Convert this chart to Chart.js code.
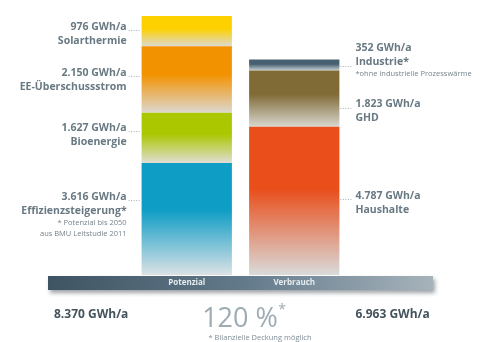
<!DOCTYPE html>
<html lang="de">
<head>
<meta charset="utf-8">
<title>Potenzial und Verbrauch</title>
<script src="https://cdn.jsdelivr.net/npm/chart.js@4/dist/chart.umd.min.js"></script>
<style>
  html, body { margin: 0; padding: 0; background: #ffffff; }
  #wrap { position: relative; width: 486px; height: 342px; }
</style>
</head>
<body>
<div id="wrap"><canvas id="bilanz" width="486" height="342"></canvas></div>
<script>
// Kategorien der beiden Säulen
const categories = ['Potenzial', 'Verbrauch'];

// Potenzial (von unten nach oben gestapelt), GWh/a
const potenzialNames = ['Effizienzsteigerung*', 'Bioenergie', 'EE-Überschussstrom', 'Solarthermie'];
const potenzialValues = [3616, 1627, 2150, 976];
const potenzialColors = ['#0e9dc5', '#abc700', '#f39200', '#fdd000'];
const potenzialFades = ['#dbe2e6', '#dfded4', '#dcd8d0', '#dcdad0'];

// Verbrauch (von unten nach oben gestapelt), GWh/a
const verbrauchNames = ['Haushalte', 'GHD', 'Industrie*'];
const verbrauchValues = [4787, 1823, 352];
const verbrauchColors = ['#e94e1b', '#806a36', '#466072'];
const verbrauchFades = ['#d9dbdb', '#d8d8d0', '#c8d0d4'];

// Summen und Deckungsgrad
const totals = [8370, 6963];
const coverage = Math.round(totals[0] / totals[1] * 100);

const fmt = v => String(v).replace(/\B(?=(\d{3})+(?!\d))/g, '.') + ' GWh/a';

const FONT = "'Open Sans', 'Noto Sans', sans-serif";
const TEXT = '#687983';

// Datensätze: jeder Abschnitt ist eine eigene gestapelte Serie
function buildSets(names, values, colors, fades, col) {
    let base = 0;
    return names.map((name, i) => {
        const start = base;
        base += values[i];
        const data = categories.map((c, k) => (k === col ? values[i] : null));
        return {
            label: name,
            data: data,
            backgroundColor: (ctx) => {
                const chart = ctx.chart;
                const y = chart.scales.y;
                if (!chart.chartArea || !y) return colors[i];
                const top = y.getPixelForValue(start + values[i]);
                const bottom = y.getPixelForValue(start);
                if (!Number.isFinite(top) || !Number.isFinite(bottom)) return colors[i];
                const g = chart.ctx.createLinearGradient(0, top, 0, bottom);
                g.addColorStop(0, colors[i]);
                g.addColorStop(0.42, colors[i]);
                g.addColorStop(1, fades[i]);
                return g;
            },
            borderWidth: 0,
            categoryPercentage: 1,
            barPercentage: 0.84,
        };
    });
}

const datasets = [
    ...buildSets(potenzialNames, potenzialValues, potenzialColors, potenzialFades, 0),
    ...buildSets(verbrauchNames, verbrauchValues, verbrauchColors, verbrauchFades, 1),
];

// Beschriftungen: Wertezeile, Name, optionale Fußnote; Lage der Führungslinie
const leftNotes = [
    { valueY: 197, leaderY: 200, extra: ['* Potenzial bis 2050', 'aus BMU Leitstudie 2011'] },
    { valueY: 128, leaderY: 131 },
    { valueY: 73, leaderY: 76 },
    { valueY: 27, leaderY: 30 },
];
const rightNotes = [
    { valueY: 196, leaderY: 199 },
    { valueY: 104, leaderY: 108 },
    { valueY: 48, leaderY: 66, extra: ['*ohne industrielle Prozesswärme'] },
];

function leader(ctx, x1, x2, y) {
    ctx.save();
    ctx.strokeStyle = '#a9b4ba';
    ctx.lineWidth = 1;
    ctx.setLineDash([1, 1.5]);
    ctx.beginPath();
    ctx.moveTo(x1, y + 0.5);
    ctx.lineTo(x2, y + 0.5);
    ctx.stroke();
    ctx.restore();
}

function noteBlock(ctx, x, align, value, name, note) {
    ctx.textAlign = align;
    ctx.textBaseline = 'middle';
    ctx.fillStyle = TEXT;
    ctx.font = `700 10.5px ${FONT}`;
    ctx.fillText(fmt(value), x, note.valueY);
    ctx.fillText(name, x, note.valueY + 14);
    if (note.extra) {
        ctx.font = `400 7.5px ${FONT}`;
        ctx.fillStyle = '#76848c';
        note.extra.forEach((t, k) => ctx.fillText(t, x, note.valueY + 26 + k * 11));
    }
}

// Grundleiste mit Kategorienamen unter den Säulen
const baseBand = {
    id: 'baseBand',
    afterDatasetsDraw(chart) {
        const { ctx, chartArea } = chart;
        const x0 = chartArea.left - 85;
        const x1 = chartArea.right + 85;
        const y0 = chartArea.bottom + 1;
        const h = 14;
        ctx.save();
        ctx.shadowColor = 'rgba(40,50,60,0.45)';
        ctx.shadowBlur = 4;
        ctx.shadowOffsetY = 3;
        ctx.shadowOffsetX = 2;
        const g = ctx.createLinearGradient(x0, 0, x1, 0);
        g.addColorStop(0, '#3f5462');
        g.addColorStop(0.5, '#62798a');
        g.addColorStop(1, '#a6b3bb');
        ctx.fillStyle = g;
        ctx.fillRect(x0, y0, x1 - x0, h);
        ctx.restore();

        ctx.save();
        ctx.font = `700 8px ${FONT}`;
        ctx.fillStyle = '#e6ecef';
        ctx.textAlign = 'center';
        ctx.textBaseline = 'middle';
        categories.forEach((c, i) => {
            ctx.fillText(c, chart.scales.x.getPixelForValue(i), y0 + h / 2);
        });
        ctx.restore();
    }
};

// Segmentbeschriftungen, Summen und Deckungsgrad
const annotations = {
    id: 'annotations',
    afterDraw(chart) {
        const { ctx } = chart;
        const metas = chart.getSortedVisibleDatasetMetas();
        const leftBar = metas[0].data[0];
        const rightBar = metas[potenzialNames.length].data[1];
        const lx = leftBar.x - leftBar.width / 2;
        const rx = rightBar.x + rightBar.width / 2;

        ctx.save();
        potenzialNames.forEach((name, i) => {
            const note = leftNotes[i];
            leader(ctx, lx - 13, lx - 1, note.leaderY);
            noteBlock(ctx, lx - 15, 'right', potenzialValues[i], name, note);
        });
        verbrauchNames.forEach((name, i) => {
            const note = rightNotes[i];
            leader(ctx, rx + 1, rx + 13, note.leaderY);
            noteBlock(ctx, rx + 16, 'left', verbrauchValues[i], name, note);
        });

        // Summen
        ctx.font = `700 12px ${FONT}`;
        ctx.fillStyle = '#44535c';
        ctx.textBaseline = 'middle';
        ctx.textAlign = 'left';
        ctx.fillText(fmt(totals[0]), 54, 315);
        ctx.fillText(fmt(totals[1]), rx + 16, 315);

        // Deckungsgrad
        ctx.font = `400 27px ${FONT}`;
        ctx.fillStyle = '#9dabb3';
        ctx.textAlign = 'center';
        ctx.textBaseline = 'alphabetic';
        ctx.fillText(coverage + ' %', 240, 327);
        ctx.font = `400 14px ${FONT}`;
        ctx.fillText('*', 282, 314);
        ctx.font = `400 7.5px ${FONT}`;
        ctx.fillStyle = '#808d95';
        ctx.textBaseline = 'middle';
        ctx.fillText('* Bilanzielle Deckung möglich', 260, 338);
        ctx.restore();
    }
};

new Chart(document.getElementById('bilanz'), {
    type: 'bar',
    data: { labels: categories, datasets: datasets },
    options: {
        responsive: false,
        animation: false,
        layout: { padding: { left: 133, right: 138, top: 16, bottom: 67 } },
        plugins: { legend: { display: false }, tooltip: { enabled: false } },
        scales: {
            x: { stacked: true, display: false },
            y: { stacked: true, display: false, min: 0, max: totals[0] },
        },
    },
    plugins: [baseBand, annotations],
});
</script>
</body>
</html>
